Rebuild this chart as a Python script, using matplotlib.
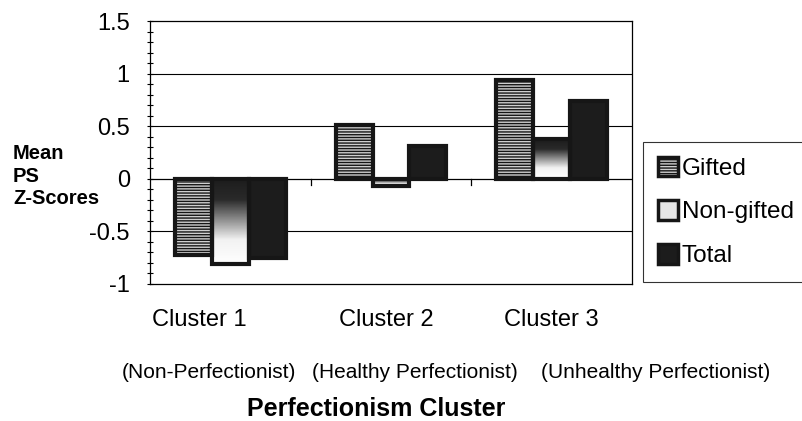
import numpy as np
import matplotlib.pyplot as plt
from matplotlib.patches import Patch
from matplotlib.colors import LinearSegmentedColormap
from matplotlib.transforms import blended_transform_factory

plt.rcParams['font.family'] = ['Liberation Sans', 'DejaVu Sans']
plt.rcParams['hatch.linewidth'] = 1.0

# data
clusters = ['Cluster 1', 'Cluster 2', 'Cluster 3']
subtypes = ['(Non-Perfectionist)', '(Healthy Perfectionist)', '(Unhealthy Perfectionist)']
series = ['Gifted', 'Non-gifted', 'Total']
gifted = [-0.72, 0.51, 0.94]
non_gifted = [-0.81, -0.07, 0.38]
total = [-0.75, 0.31, 0.74]

fig = plt.figure(figsize=(8.02, 4.21), dpi=100)
ax = fig.add_axes([150 / 802, 1 - 284 / 421, 482 / 802, 263 / 421])

x = np.arange(len(clusters))
w = 0.23

# gifted: horizontal stripes
ax.bar(x - w, gifted, w, facecolor='#cfcfcf', edgecolor='#161616',
       hatch='------', linewidth=3, zorder=3)

# non-gifted: dark-to-white gradient inside a black outline
grad_cmap = LinearSegmentedColormap.from_list(
    'g', [(0, '#1c1c1c'), (0.25, '#2a2a2a'), (0.72, '#f2f2f2'), (1, 'white')])
grad = np.linspace(0, 1, 200).reshape(-1, 1)
ng_bars = ax.bar(x, non_gifted, w, facecolor='none', edgecolor='#161616',
                 linewidth=3, zorder=4)
for b in ng_bars:
    x0, y0 = b.get_x(), b.get_y()
    h = b.get_height()
    im = ax.imshow(grad, cmap=grad_cmap, vmin=0, vmax=1, aspect='auto',
                   extent=[x0, x0 + b.get_width(), min(y0, y0 + h), max(y0, y0 + h)],
                   origin='upper', zorder=2.5)
    im.set_clip_path(b)

# total: solid
ax.bar(x + w, total, w, facecolor='#1c1c1c', edgecolor='#161616',
       linewidth=3, zorder=3)

ax.set_xlim(-0.5, 2.5)
ax.set_ylim(-1, 1.5)

# gridlines + zero axis
for yv in [-0.5, 0.5, 1.0]:
    ax.axhline(yv, color='black', linewidth=0.8, zorder=1)
ax.axhline(0, color='black', linewidth=0.9, zorder=1)
for xb in [0.5, 1.5]:
    ax.plot([xb, xb], [0, -0.06], color='black', linewidth=0.9, zorder=1)

for s in ax.spines.values():
    s.set_linewidth(0.9)

ax.set_xticks([])
ax.set_yticks([-1, -0.5, 0, 0.5, 1, 1.5])
ax.set_yticklabels(['-1', '-0.5', '0', '0.5', '1', '1.5'])
ax.set_yticks(np.arange(-1, 1.51, 0.1), minor=True)
ax.tick_params(axis='y', which='both', direction='inout', length=5, width=0.8,
               labelsize=17, pad=12)

# y label
fig.text(13 / 802, 1 - 176 / 421, 'Mean\nPS\nZ-Scores', fontsize=14.5,
         fontweight='bold', ha='left', va='center', linespacing=1.25)

# category labels
tr = blended_transform_factory(ax.transData, fig.transFigure)
label_x = [-0.19, 0.97, 2.0]
for xl, lab in zip(label_x, clusters):
    ax.text(xl, 1 - 320 / 421, lab, transform=tr, fontsize=17,
            ha='center', va='center')
sub_x = [209, 415, 656]
for xs, lab in zip(sub_x, subtypes):
    fig.text(xs / 802, 1 - 373 / 421, lab, fontsize=15, ha='center', va='center')

fig.text(376 / 802, 1 - 409 / 421, 'Perfectionism Cluster', fontsize=18,
         fontweight='bold', ha='center', va='center')

# legend
handles = [
    Patch(facecolor='#cfcfcf', edgecolor='#161616', hatch='------', linewidth=2.5),
    Patch(facecolor='#e6e6e6', edgecolor='#161616', linewidth=2.5),
    Patch(facecolor='#1c1c1c', edgecolor='#161616', linewidth=2.5),
]
leg = fig.legend(handles, series, loc='upper left',
                 bbox_to_anchor=(643 / 802, 1 - 142 / 421), fontsize=17.5,
                 frameon=True, fancybox=False, edgecolor='black',
                 handlelength=0.85, handleheight=0.85, handletextpad=0.15,
                 labelspacing=0.85, borderpad=0.6, borderaxespad=0)
leg.get_frame().set_linewidth(0.8)

fig.savefig('out.png', dpi=100)
